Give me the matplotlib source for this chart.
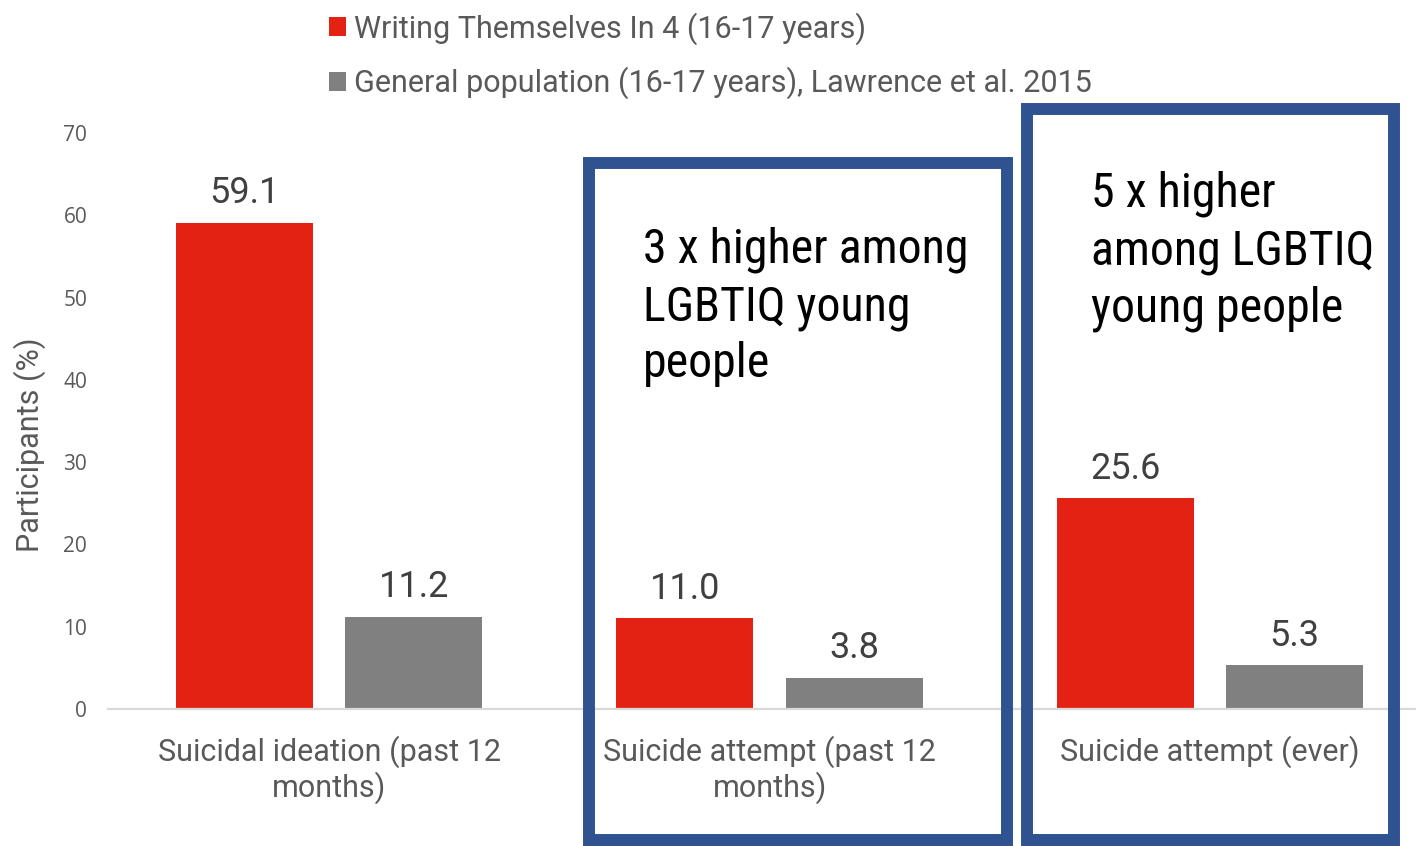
import matplotlib.pyplot as plt
import numpy as np
from matplotlib import font_manager
from matplotlib.patches import Rectangle

categories = ['Suicidal ideation (past 12\nmonths)', 'Suicide attempt (past 12\nmonths)', 'Suicide attempt (ever)']
wti4 = [59.1, 11.0, 25.6]
general = [11.2, 3.8, 5.3]
series_names = ['Writing Themselves In 4 (16-17 years)',
                'General population (16-17 years), Lawrence et al. 2015']
callouts = ['3 x higher among\nLGBTIQ young\npeople', '5 x higher\namong LGBTIQ\nyoung people']

# condensed face for the callouts, if one is installed
names = set(f.name for f in font_manager.fontManager.ttflist)
cond = None
for name in ['Roboto Condensed', 'Liberation Sans Narrow', 'Open Sans Condensed']:
    if name in names:
        cond = name
        break
if cond is None:
    cond, cond_size = 'Roboto', 28
else:
    cond_size = 34.5

plt.rcParams['font.family'] = ['Roboto', 'DejaVu Sans']

fig = plt.figure(figsize=(14.16, 8.46), dpi=100)
ax = fig.add_axes([0.0763, 0.162, 0.9237, 0.6808])

x = np.arange(len(categories))
w = 0.311
off = 0.192
b1 = ax.bar(x - off, wti4, w, color='#E32213', label=series_names[0])
b2 = ax.bar(x + off, general, w, color='#808080', label=series_names[1])

for bars, vals in [(b1, wti4), (b2, general)]:
    for r, v in zip(bars, vals):
        ax.annotate('%.1f' % v, (r.get_x() + r.get_width() / 2, v), xytext=(0, 14),
                    textcoords='offset points', ha='center', va='baseline',
                    fontsize=26, color='#404040')

ax.set_xlim(-0.502, 2.468)
ax.set_ylim(0, 70)
ax.set_yticks(range(0, 71, 10))
ax.set_yticklabels([str(v) for v in range(0, 71, 10)], family='Open Sans', fontsize=15, color='#595959')
ax.set_xticks(x)
ax.set_xticklabels(categories, fontsize=22, color='#595959', linespacing=1.15)
ax.tick_params(axis='both', length=0)
ax.tick_params(axis='x', pad=19)
ax.tick_params(axis='y', pad=15)
for s in ['top', 'right', 'left']:
    ax.spines[s].set_visible(False)
ax.spines['bottom'].set_color('#D9D9D9')
ax.spines['bottom'].set_linewidth(1.6)
ax.set_ylabel('Participants (%)', fontsize=22, color='#595959')
ax.yaxis.set_label_coords(-0.0474, 0.458)

# highlight boxes around the two attempt groups
for (x0, x1, y1) in [(0.590, 1.539, 66.4), (1.585, 2.418, 72.9)]:
    ax.add_patch(Rectangle((x0, -15.9), x1 - x0, y1 + 15.9, fill=False,
                           edgecolor='#2F5290', linewidth=8.6, clip_on=False, zorder=5))

ax.text(0.713, 58.6, callouts[0], family=cond, fontsize=cond_size, va='top', ha='left',
        color='black', linespacing=1.3)
ax.text(1.730, 65.4, callouts[1], family=cond, fontsize=cond_size, va='top', ha='left',
        color='black', linespacing=1.3)

leg = ax.legend(loc='upper left', bbox_to_anchor=(0.2218, 1.0036), bbox_transform=fig.transFigure,
                frameon=False, fontsize=22, handlelength=0.56, handleheight=0.56,
                handletextpad=0.26, labelspacing=0.72, borderpad=0.0)
for t in leg.get_texts():
    t.set_color('#595959')

plt.savefig('out.png', dpi=100)
